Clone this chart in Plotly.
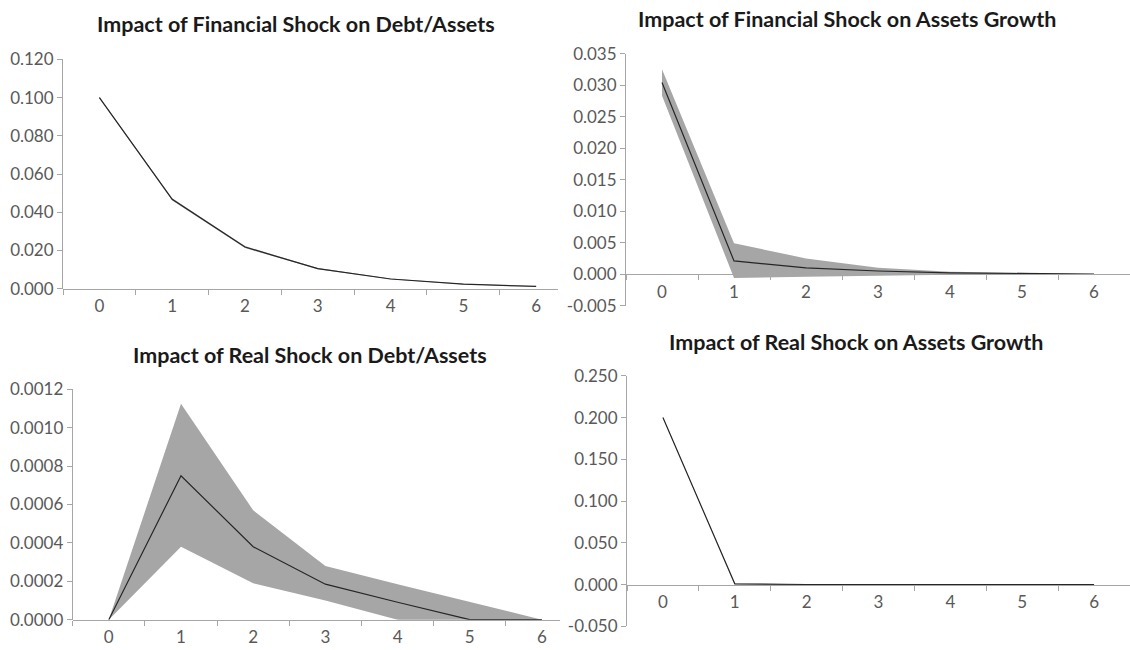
import plotly.graph_objects as go

W, H = 1130, 650

periods = ["0", "1", "2", "3", "4", "5", "6"]

# 金融ショック -> Debt/Assets
fin_debt_mean = [0.1000, 0.0468, 0.0218, 0.0105, 0.0051, 0.0024, 0.0012]
fin_debt_low = [0.0996, 0.0462, 0.0213, 0.0102, 0.0049, 0.0022, 0.0011]
fin_debt_high = [0.1004, 0.0474, 0.0223, 0.0108, 0.0053, 0.0026, 0.0013]

# 金融ショック -> Assets Growth
fin_growth_mean = [0.0304, 0.0021, 0.0010, 0.0005, 0.0002, 0.0001, 0.0]
fin_growth_low = [0.0283, -0.0006, -0.0004, -0.0002, -0.0001, 0.0, 0.0]
fin_growth_high = [0.0325, 0.0049, 0.0025, 0.0010, 0.0004, 0.0002, 0.0]

# 実物ショック -> Debt/Assets
real_debt_mean = [0.0, 0.00075, 0.00038, 0.000185, 0.000091, 0.0, 0.0]
real_debt_low = [0.0, 0.00038, 0.00019, 0.0001, 0.0, -0.00009, 0.0]
real_debt_high = [0.0, 0.001125, 0.00057, 0.00028, 0.000184, 0.00009, 0.0]

# 実物ショック -> Assets Growth
real_growth_mean = [0.200, 0.0010, 0.0002, 0.0, 0.0, 0.0, 0.0]
real_growth_low = [0.1995, 0.0005, 0.0, 0.0, 0.0, 0.0, 0.0]
real_growth_high = [0.2005, 0.0015, 0.0004, 0.0, 0.0, 0.0, 0.0]

titles = [
    "Impact of Financial Shock on Debt/Assets",
    "Impact of Financial Shock on Assets Growth",
    "Impact of Real Shock on Debt/Assets",
    "Impact of Real Shock on Assets Growth",
]

tick_fin_debt = ["0.000", "0.020", "0.040", "0.060", "0.080", "0.100", "0.120"]
tick_fin_growth = ["-0.005", "0.000", "0.005", "0.010", "0.015", "0.020", "0.025", "0.030", "0.035"]
tick_real_debt = ["0.0000", "0.0002", "0.0004", "0.0006", "0.0008", "0.0010", "0.0012"]
tick_real_growth = ["-0.050", "0.000", "0.050", "0.100", "0.150", "0.200", "0.250"]

FONT = "Lato"
AXIS_GRAY = "#a6a6a6"
BAND = "#a6a6a6"
LINE = "#262626"

# 各パネルの位置（ピクセル）
panels = [
    dict(px=(63, 558), py=(50, 287), xmax=6.3, title_xy=(296, 13),
         mean=fin_debt_mean, low=fin_debt_low, high=fin_debt_high, ticks=tick_fin_debt),
    dict(px=(626, 1130), py=(44, 304.5), xmax=6.5, title_xy=(847, 8),
         mean=fin_growth_mean, low=fin_growth_low, high=fin_growth_high, ticks=tick_fin_growth),
    dict(px=(72.7, 560), py=(391, 629), xmax=6.25, title_xy=(310, 355),
         mean=real_debt_mean, low=real_debt_low, high=real_debt_high, ticks=tick_real_debt),
    dict(px=(627, 1130), py=(377, 636), xmax=6.5, title_xy=(856, 342),
         mean=real_growth_mean, low=real_growth_low, high=real_growth_high, ticks=tick_real_growth),
]

fig = go.Figure()
layout = {}
annotations = []

for i, p in enumerate(panels):
    n = "" if i == 0 else str(i + 1)
    xa, ya = "x" + n, "y" + n
    tickvals = [float(t) for t in p["ticks"]]
    ymin, ymax = tickvals[0], tickvals[-1]

    fig.add_trace(go.Scatter(x=periods, y=p["low"], mode="lines", line=dict(width=0),
                             xaxis=xa, yaxis=ya, showlegend=False, hoverinfo="skip"))
    fig.add_trace(go.Scatter(x=periods, y=p["high"], mode="lines", line=dict(width=0),
                             fill="tonexty", fillcolor=BAND,
                             xaxis=xa, yaxis=ya, showlegend=False, hoverinfo="skip"))
    fig.add_trace(go.Scatter(x=periods, y=p["mean"], mode="lines",
                             line=dict(color=LINE, width=1.2),
                             xaxis=xa, yaxis=ya, showlegend=False))

    ydom = [1 - p["py"][1] / H, 1 - p["py"][0] / H]
    xdom = [p["px"][0] / W, min(p["px"][1] / W, 1.0)]
    # x軸はy=0の位置で交差させる
    zero_pos = ydom[0] + (0 - ymin) / (ymax - ymin) * (ydom[1] - ydom[0])

    layout["xaxis" + n] = dict(
        domain=xdom, type="category", range=[-0.5, p["xmax"]],
        anchor="free", position=zero_pos,
        showline=True, linecolor=AXIS_GRAY, linewidth=1,
        ticks="outside", tickson="boundaries", ticklen=5, tickcolor=AXIS_GRAY,
        ticklabelstandoff=2,
        showgrid=False, zeroline=False, fixedrange=True,
        tickfont=dict(family=FONT, size=17, color="#595959"),
    )
    layout["yaxis" + n] = dict(
        domain=ydom, range=[ymin, ymax], anchor=xa,
        tickvals=tickvals, ticktext=p["ticks"],
        showline=True, linecolor=AXIS_GRAY, linewidth=1,
        ticks="outside", ticklen=5, tickcolor=AXIS_GRAY,
        showgrid=False, zeroline=False, fixedrange=True,
        tickfont=dict(family=FONT, size=17, color="#595959"),
    )
    annotations.append(dict(
        text="<b>" + titles[i] + "</b>", x=p["title_xy"][0] / W, y=1 - p["title_xy"][1] / H,
        xref="paper", yref="paper", xanchor="center", yanchor="middle", showarrow=False,
        font=dict(family=FONT, size=21.5, color="#1a1a1a"),
    ))

fig.update_layout(
    width=W, height=H,
    margin=dict(l=0, r=0, t=0, b=0),
    paper_bgcolor="white", plot_bgcolor="white",
    annotations=annotations,
    **layout,
)

fig.write_html("out.html", post_script="document.body.style.margin='0px';",
               config={"displayModeBar": False})
